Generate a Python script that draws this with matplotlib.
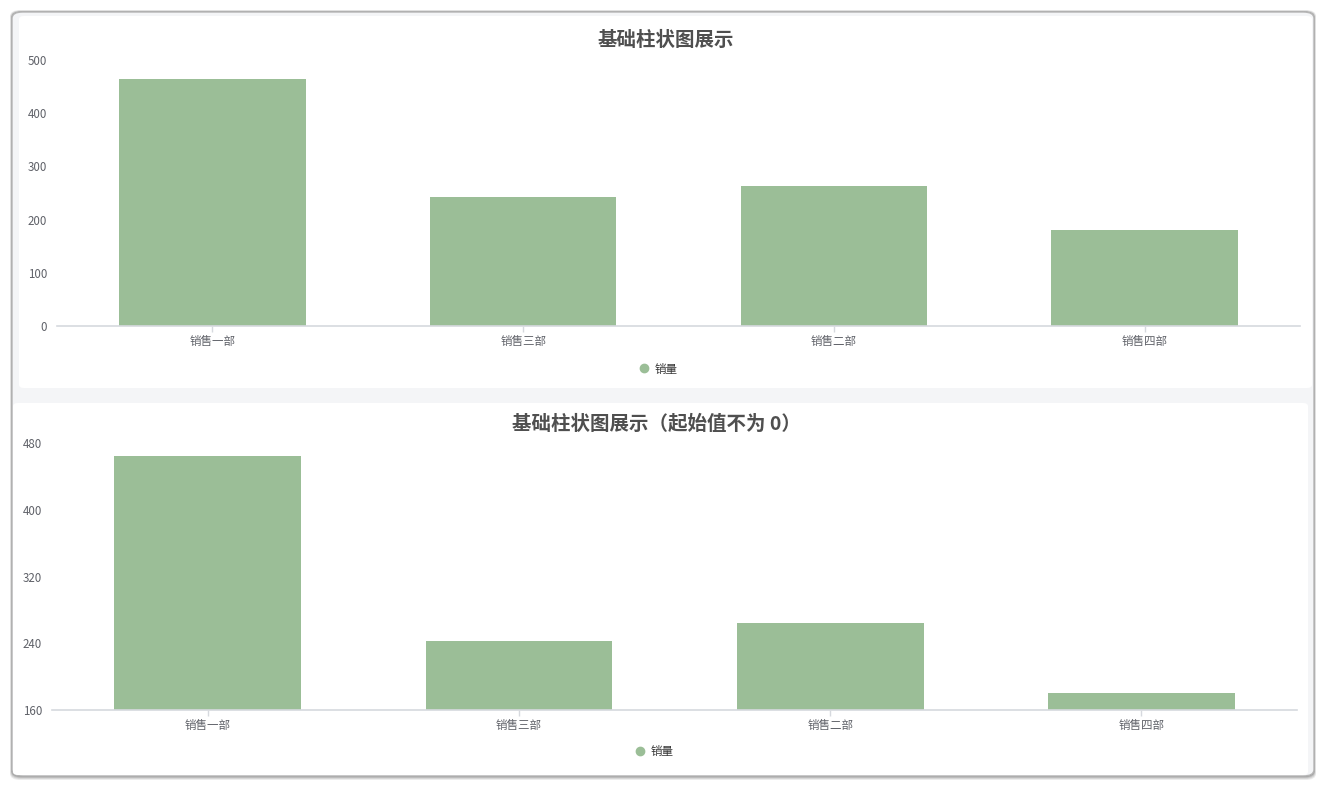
import numpy as np
import matplotlib
matplotlib.use("Agg")
import matplotlib.pyplot as plt
from matplotlib.patches import FancyBboxPatch
from matplotlib.lines import Line2D

plt.rcParams['font.family'] = ['Noto Sans CJK SC', 'DejaVu Sans']

# data
departments = ['销售一部', '销售三部', '销售二部', '销售四部']
sales = [465, 243, 264, 180]
series_name = '销量'
titles = ['基础柱状图展示', '基础柱状图展示（起始值不为 0）']
yticks_top = [0, 100, 200, 300, 400, 500]
yticks_bottom = [160, 240, 320, 400, 480]

W, H = 1326, 788
BAR_COLOR = '#9bbe97'
TEXT_COLOR = '#5f6168'
TITLE_COLOR = '#4f4f4f'
AXIS_COLOR = '#d6d9de'


def px_box(x0, y0, x1, y1):
    # pixel box (top-left origin) -> figure fraction rect
    return [x0 / W, 1 - y1 / H, (x1 - x0) / W, (y1 - y0) / H]


fig = plt.figure(figsize=(W / 100, H / 100), dpi=100)
fig.patch.set_facecolor('white')

# window frame with shadow
for off, col in [(4, '#ececec'), (3, '#d6d6d6'), (2, '#bcbcbc'), (1, '#9c9c9c')]:
    fig.patches.append(FancyBboxPatch(((12 - off / 2) / W, (H - 776 - off) / H), (1302 + off) / W, (764 + off * 1.5) / H,
                                      boxstyle='round,pad=0,rounding_size=0.008',
                                      transform=fig.transFigure, facecolor=col, edgecolor='none', zorder=0))
fig.patches.append(FancyBboxPatch((12 / W, (H - 776) / H), 1302 / W, 764 / H,
                                  boxstyle='round,pad=0,rounding_size=0.008',
                                  transform=fig.transFigure, facecolor='#f4f5f7', edgecolor='#b5b5b5',
                                  linewidth=1.0, zorder=1))
# the two white cards
fig.patches.append(FancyBboxPatch((19 / W, (H - 388) / H), 1293 / W, 372 / H,
                                  boxstyle='round,pad=0,rounding_size=0.004',
                                  transform=fig.transFigure, facecolor='white', edgecolor='none', zorder=2))
fig.patches.append(FancyBboxPatch((13 / W, (H - 775) / H), 1295 / W, 372 / H,
                                  boxstyle='round,pad=0,rounding_size=0.004',
                                  transform=fig.transFigure, facecolor='white', edgecolor='none', zorder=2))

panels = [
    dict(rect=px_box(57, 60, 1300, 326), ylim=(0, 500), yticks=yticks_top,
         title_xy=(666, 40), legend_xy=(658, 369)),
    dict(rect=px_box(52, 443, 1297, 710), ylim=(160, 480), yticks=yticks_bottom,
         title_xy=(656, 424), legend_xy=(654, 752)),
]

x = np.arange(len(departments))
for i, p in enumerate(panels):
    ax = fig.add_axes(p['rect'])
    ax.set_facecolor('none')
    ax.set_zorder(3)
    base = p['ylim'][0]
    ax.bar(x, np.array(sales) - base, bottom=base, width=0.6, color=BAR_COLOR, zorder=2)
    ax.set_xlim(-0.5, len(departments) - 0.5)
    ax.set_ylim(*p['ylim'])
    ax.set_yticks(p['yticks'])
    ax.set_xticks(x)
    ax.set_xticklabels(departments)
    for s in ['top', 'right', 'left']:
        ax.spines[s].set_visible(False)
    ax.spines['bottom'].set_color(AXIS_COLOR)
    ax.spines['bottom'].set_linewidth(1.2)
    ax.tick_params(axis='y', length=0, pad=7, labelsize=8.3, labelcolor=TEXT_COLOR)
    ax.tick_params(axis='x', length=4, width=1, color=AXIS_COLOR, pad=2.5, labelsize=8.3, labelcolor=TEXT_COLOR)

    tx, ty = p['title_xy']
    fig.text(tx / W, 1 - ty / H, titles[i], ha='center', va='center', fontsize=14,
             fontweight='semibold', color=TITLE_COLOR, zorder=5)

    lx, ly = p['legend_xy']
    handle = Line2D([], [], marker='o', linestyle='', color=BAR_COLOR, markersize=6)
    fig.legend(handles=[handle], labels=[series_name], loc='center',
               bbox_to_anchor=(lx / W, 1 - ly / H), frameon=False, fontsize=8.3,
               handletextpad=0.4, handlelength=1.0, labelcolor='#333333')

fig.savefig('out.png', dpi=100, facecolor='white')
